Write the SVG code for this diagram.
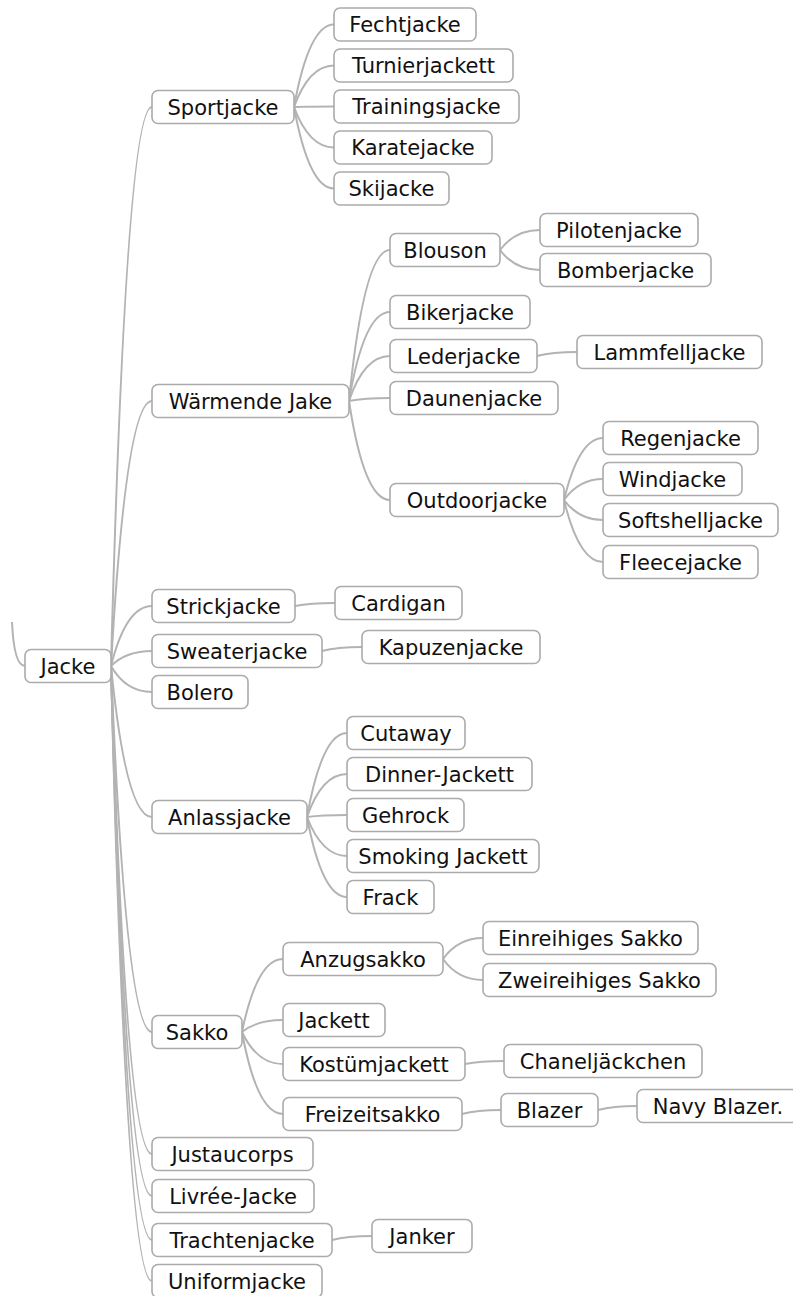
<svg xmlns="http://www.w3.org/2000/svg" width="793" height="1296" viewBox="0 0 793 1296">
  <style>
    .n rect { fill: #ffffff; stroke: #ababab; stroke-width: 1.6; }
    .n text { font-family: "DejaVu Sans", "Verdana", sans-serif; font-size: 21px; fill: #111111; text-anchor: middle; }
    .e path { fill: none; stroke: #b3b3b3; stroke-width: 2; }
  </style>
  <rect width="793" height="1296" fill="#ffffff"/>

  <!-- connectors: quadratic curves from parent right edge to child left edge -->
  <g class="e" id="connectors">
    <path d="M12 622 Q14 666 25 666"/>
    <!-- Jacke -->
    <path d="M111 666 Q126 107 152 107"/>
    <path d="M111 666 Q126 401 152 401"/>
    <path d="M111 666 Q126 606 152 606"/>
    <path d="M111 666 Q126 651 152 651"/>
    <path d="M111 666 Q126 692 152 692"/>
    <path d="M111 666 Q126 817 152 817"/>
    <path d="M111 666 Q126 1032 152 1032"/>
    <path d="M111 666 Q126 1154 152 1154"/>
    <path d="M111 666 Q126 1196 152 1196"/>
    <path d="M111 666 Q126 1240 152 1240"/>
    <path d="M111 666 Q126 1281 152 1281"/>
    <!-- Sportjacke -->
    <path d="M294 107 Q309 24.5 334 24.5"/>
    <path d="M294 107 Q309 65.5 334 65.5"/>
    <path d="M294 107 Q309 106.5 334 106.5"/>
    <path d="M294 107 Q309 147.5 334 147.5"/>
    <path d="M294 107 Q309 188.5 334 188.5"/>
    <!-- Wärmende Jake -->
    <path d="M349 401 Q364 250 390 250"/>
    <path d="M349 401 Q364 312 390 312"/>
    <path d="M349 401 Q364 356 390 356"/>
    <path d="M349 401 Q364 398 390 398"/>
    <path d="M349 401 Q364 500 390 500"/>
    <!-- Blouson -->
    <path d="M500 250 Q515 230 540 230"/>
    <path d="M500 250 Q515 270 540 270"/>
    <!-- Lederjacke -->
    <path d="M537 356 Q552 352 577 352"/>
    <!-- Outdoorjacke -->
    <path d="M564 500 Q579 438 603 438"/>
    <path d="M564 500 Q579 479 603 479"/>
    <path d="M564 500 Q579 520 603 520"/>
    <path d="M564 500 Q579 562 603 562"/>
    <!-- Strickjacke / Sweaterjacke -->
    <path d="M295 606 Q310 603 335 603"/>
    <path d="M322 651 Q337 647 362 647"/>
    <!-- Anlassjacke -->
    <path d="M307 817 Q322 733 347 733"/>
    <path d="M307 817 Q322 774 347 774"/>
    <path d="M307 817 Q322 815 347 815"/>
    <path d="M307 817 Q322 856 347 856"/>
    <path d="M307 817 Q322 897 347 897"/>
    <!-- Sakko -->
    <path d="M242 1032 Q257 959 283 959"/>
    <path d="M242 1032 Q257 1020 283 1020"/>
    <path d="M242 1032 Q257 1064 283 1064"/>
    <path d="M242 1032 Q257 1114 283 1114"/>
    <!-- Anzugsakko -->
    <path d="M443 959 Q458 938 483 938"/>
    <path d="M443 959 Q458 980 483 980"/>
    <!-- Kostümjackett / Freizeitsakko / Blazer / Trachtenjacke -->
    <path d="M465 1064 Q480 1061 504 1061"/>
    <path d="M462 1114 Q477 1110 501 1110"/>
    <path d="M598 1110 Q613 1106 637 1106"/>
    <path d="M332 1240 Q347 1236 372 1236"/>
  </g>

  <!-- nodes: rect at (x, cy-16.5), text centred -->
  <g class="n" id="n-jacke"><rect x="25" y="649.5" width="86" height="33" rx="6"/><text x="68" y="673.5">Jacke</text></g>

  <g class="n" id="n-sportjacke"><rect x="152" y="90.5" width="142" height="33" rx="6"/><text x="223" y="114.5">Sportjacke</text></g>
  <g class="n" id="n-fechtjacke"><rect x="334" y="8" width="142" height="33" rx="6"/><text x="405" y="32">Fechtjacke</text></g>
  <g class="n" id="n-turnierjackett"><rect x="334" y="49" width="179" height="33" rx="6"/><text x="423.5" y="73">Turnierjackett</text></g>
  <g class="n" id="n-trainingsjacke"><rect x="334" y="90" width="185" height="33" rx="6"/><text x="426.5" y="114">Trainingsjacke</text></g>
  <g class="n" id="n-karatejacke"><rect x="334" y="131" width="158" height="33" rx="6"/><text x="413" y="155">Karatejacke</text></g>
  <g class="n" id="n-skijacke"><rect x="334" y="172" width="115" height="33" rx="6"/><text x="391.5" y="196">Skijacke</text></g>

  <g class="n" id="n-waermende-jake"><rect x="152" y="384.5" width="197" height="33" rx="6"/><text x="250.5" y="408.5">Wärmende Jake</text></g>
  <g class="n" id="n-blouson"><rect x="390" y="233.5" width="110" height="33" rx="6"/><text x="445" y="257.5">Blouson</text></g>
  <g class="n" id="n-pilotenjacke"><rect x="540" y="213.5" width="158" height="33" rx="6"/><text x="619" y="237.5">Pilotenjacke</text></g>
  <g class="n" id="n-bomberjacke"><rect x="540" y="253.5" width="171" height="33" rx="6"/><text x="625.5" y="277.5">Bomberjacke</text></g>
  <g class="n" id="n-bikerjacke"><rect x="390" y="295.5" width="140" height="33" rx="6"/><text x="460" y="319.5">Bikerjacke</text></g>
  <g class="n" id="n-lederjacke"><rect x="390" y="339.5" width="147" height="33" rx="6"/><text x="463.5" y="363.5">Lederjacke</text></g>
  <g class="n" id="n-lammfelljacke"><rect x="577" y="335.5" width="185" height="33" rx="6"/><text x="669.5" y="359.5">Lammfelljacke</text></g>
  <g class="n" id="n-daunenjacke"><rect x="390" y="381.5" width="168" height="33" rx="6"/><text x="474" y="405.5">Daunenjacke</text></g>
  <g class="n" id="n-outdoorjacke"><rect x="390" y="483.5" width="174" height="33" rx="6"/><text x="477" y="507.5">Outdoorjacke</text></g>
  <g class="n" id="n-regenjacke"><rect x="603" y="421.5" width="155" height="33" rx="6"/><text x="680.5" y="445.5">Regenjacke</text></g>
  <g class="n" id="n-windjacke"><rect x="603" y="462.5" width="139" height="33" rx="6"/><text x="672.5" y="486.5">Windjacke</text></g>
  <g class="n" id="n-softshelljacke"><rect x="603" y="503.5" width="175" height="33" rx="6"/><text x="690.5" y="527.5">Softshelljacke</text></g>
  <g class="n" id="n-fleecejacke"><rect x="603" y="545.5" width="155" height="33" rx="6"/><text x="680.5" y="569.5">Fleecejacke</text></g>

  <g class="n" id="n-strickjacke"><rect x="152" y="589.5" width="143" height="33" rx="6"/><text x="223.5" y="613.5">Strickjacke</text></g>
  <g class="n" id="n-cardigan"><rect x="335" y="586.5" width="127" height="33" rx="6"/><text x="398.5" y="610.5">Cardigan</text></g>
  <g class="n" id="n-sweaterjacke"><rect x="152" y="634.5" width="170" height="33" rx="6"/><text x="237" y="658.5">Sweaterjacke</text></g>
  <g class="n" id="n-kapuzenjacke"><rect x="362" y="630.5" width="178" height="33" rx="6"/><text x="451" y="654.5">Kapuzenjacke</text></g>
  <g class="n" id="n-bolero"><rect x="152" y="675.5" width="96" height="33" rx="6"/><text x="200" y="699.5">Bolero</text></g>

  <g class="n" id="n-anlassjacke"><rect x="152" y="800.5" width="155" height="33" rx="6"/><text x="229.5" y="824.5">Anlassjacke</text></g>
  <g class="n" id="n-cutaway"><rect x="347" y="716.5" width="118" height="33" rx="6"/><text x="406" y="740.5">Cutaway</text></g>
  <g class="n" id="n-dinner-jackett"><rect x="347" y="757.5" width="185" height="33" rx="6"/><text x="439.5" y="781.5">Dinner-Jackett</text></g>
  <g class="n" id="n-gehrock"><rect x="347" y="798.5" width="117" height="33" rx="6"/><text x="405.5" y="822.5">Gehrock</text></g>
  <g class="n" id="n-smoking-jackett"><rect x="347" y="839.5" width="192" height="33" rx="6"/><text x="443" y="863.5">Smoking Jackett</text></g>
  <g class="n" id="n-frack"><rect x="347" y="880.5" width="87" height="33" rx="6"/><text x="390.5" y="904.5">Frack</text></g>

  <g class="n" id="n-sakko"><rect x="152" y="1015.5" width="90" height="33" rx="6"/><text x="197" y="1039.5">Sakko</text></g>
  <g class="n" id="n-anzugsakko"><rect x="283" y="942.5" width="160" height="33" rx="6"/><text x="363" y="966.5">Anzugsakko</text></g>
  <g class="n" id="n-einreihiges-sakko"><rect x="483" y="921.5" width="215" height="33" rx="6"/><text x="590.5" y="945.5">Einreihiges Sakko</text></g>
  <g class="n" id="n-zweireihiges-sakko"><rect x="483" y="963.5" width="233" height="33" rx="6"/><text x="599.5" y="987.5">Zweireihiges Sakko</text></g>
  <g class="n" id="n-jackett"><rect x="283" y="1003.5" width="102" height="33" rx="6"/><text x="334" y="1027.5">Jackett</text></g>
  <g class="n" id="n-kostuemjackett"><rect x="283" y="1047.5" width="182" height="33" rx="6"/><text x="374" y="1071.5">Kostümjackett</text></g>
  <g class="n" id="n-chaneljaeckchen"><rect x="504" y="1044.5" width="198" height="33" rx="6"/><text x="603" y="1068.5">Chaneljäckchen</text></g>
  <g class="n" id="n-freizeitsakko"><rect x="283" y="1097.5" width="179" height="33" rx="6"/><text x="372.5" y="1121.5">Freizeitsakko</text></g>
  <g class="n" id="n-blazer"><rect x="501" y="1093.5" width="97" height="33" rx="6"/><text x="549.5" y="1117.5">Blazer</text></g>
  <g class="n" id="n-navy-blazer"><rect x="637" y="1089.5" width="170" height="33" rx="6"/><text x="718" y="1113.5">Navy Blazer.</text></g>

  <g class="n" id="n-justaucorps"><rect x="152" y="1137.5" width="161" height="33" rx="6"/><text x="232.5" y="1161.5">Justaucorps</text></g>
  <g class="n" id="n-livree-jacke"><rect x="152" y="1179.5" width="162" height="33" rx="6"/><text x="233" y="1203.5">Livrée-Jacke</text></g>
  <g class="n" id="n-trachtenjacke"><rect x="152" y="1223.5" width="180" height="33" rx="6"/><text x="242" y="1247.5">Trachtenjacke</text></g>
  <g class="n" id="n-janker"><rect x="372" y="1219.5" width="100" height="33" rx="6"/><text x="422" y="1243.5">Janker</text></g>
  <g class="n" id="n-uniformjacke"><rect x="152" y="1264.5" width="170" height="33" rx="6"/><text x="237" y="1288.5">Uniformjacke</text></g>
</svg>
